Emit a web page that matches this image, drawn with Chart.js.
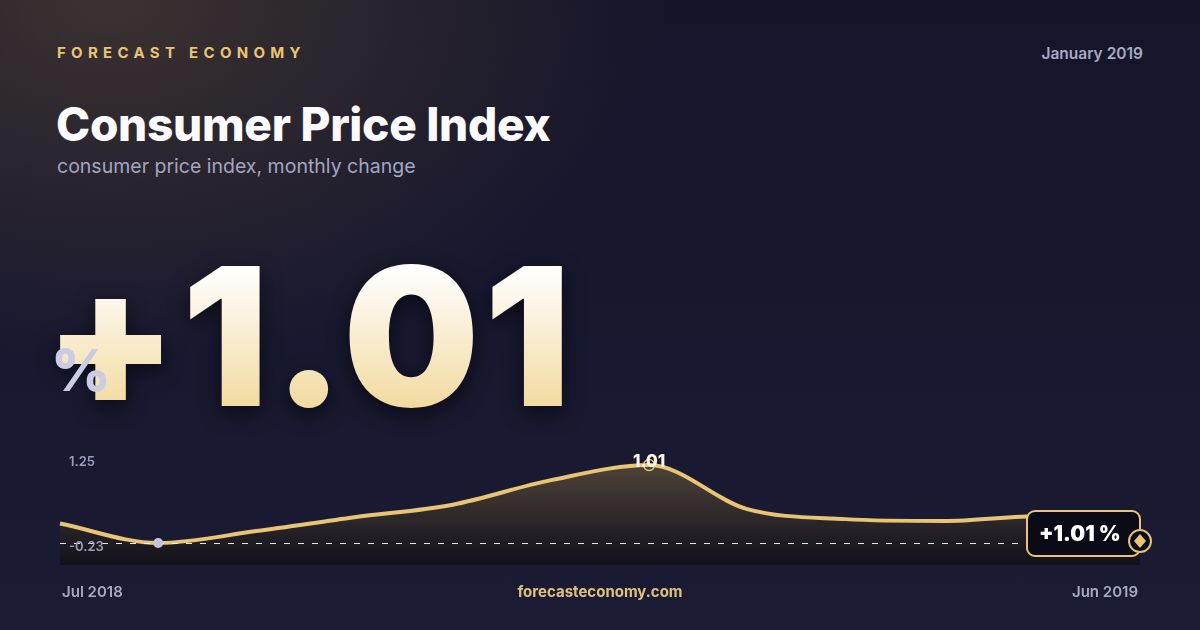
<!DOCTYPE html>
<html>
<head>
<meta charset="utf-8">
<script src="https://cdn.jsdelivr.net/npm/chart.js@4"></script>
<style>
  html, body { margin: 0; padding: 0; }
  body {
    width: 1200px; height: 630px; overflow: hidden; position: relative;
    font-family: Inter, "Noto Sans", sans-serif;
    background:
      radial-gradient(ellipse 560px 360px at 110px 0px, rgba(105, 84, 56, 0.45), rgba(105, 84, 56, 0) 100%),
      linear-gradient(180deg, #15152a 0%, #181830 60%, #1b1b34 100%);
  }
  .brand { position: absolute; left: 57px; top: 43px; font-size: 15px; font-weight: 700;
    letter-spacing: 5.3px; color: #e8c574; }
  .date { position: absolute; right: 57px; top: 44px; font-size: 15.5px; font-weight: 600; color: #a8aac4; }
  .title { position: absolute; left: 56px; top: 96px; font-size: 46px; font-weight: 800;
    color: #fbfbff; letter-spacing: -0.3px; }
  .sub { position: absolute; left: 57px; top: 154px; font-size: 19.5px; font-weight: 400; color: #a4a6c2; }
  .big { position: absolute; left: 44px; top: 240px; font-size: 192px; font-weight: 900;
    line-height: 1; letter-spacing: 4.5px;
    background: linear-gradient(180deg, #ffffff 15%, #f2d89c 90%);
    -webkit-background-clip: text; background-clip: text; color: transparent;
    filter: drop-shadow(0 6px 10px rgba(0,0,0,0.55)); }
  .pct { position: absolute; left: 51px; top: 335px; font-size: 58px; font-weight: 800; color: #c9cce2; }
  canvas { position: absolute; left: 0; top: 0; }
  .foot { position: absolute; top: 582px; font-size: 15px; font-weight: 600; color: #a8aac4; }
</style>
</head>
<body>
<div class="brand">FORECAST ECONOMY</div>
<div class="date">January 2019</div>
<div class="title">Consumer Price Index</div>
<div class="sub">consumer price index, monthly change</div>
<div class="big">+1.01</div>
<div class="pct">%</div>
<canvas id="chart" width="1200" height="630"></canvas>
<div class="foot" style="left:62px">Jul 2018</div>
<div class="foot" style="left:0;width:1200px;text-align:center;color:#e2c27a;font-weight:700">forecasteconomy.com</div>
<div class="foot" style="right:62px">Jun 2019</div>

<script>
// ---- DADOS ----
var months = ['Jul 2018','Aug 2018','Sep 2018','Oct 2018','Nov 2018','Dec 2018',
              'Jan 2019','Feb 2019','Mar 2019','Apr 2019','May 2019','Jun 2019'];
var cpiChange = [0.08, -0.23, -0.04, 0.18, 0.38, 0.77, 1.01, 0.31, 0.15, 0.12, 0.20, -0.20];
var axisLabels = ['1.25', '-0.23'];
var yMin = -0.58, yMax = 1.25;
var latestLabel = '+1.01 %';

var GOLD = '#e8c474';

// ---- PLUGIN: linha tracejada, rótulos e marcadores ----
var decor = {
  id: 'decor',
  afterDatasetsDraw: function(chart) {
    var c = chart.ctx, a = chart.chartArea, y = chart.scales.y;
    var pts = chart.getDatasetMeta(0).data;
    var minI = cpiChange.indexOf(Math.min.apply(null, cpiChange));
    var maxI = cpiChange.indexOf(Math.max.apply(null, cpiChange));
    var py = Math.round(y.getPixelForValue(cpiChange[minI]));
    c.save();
    // linha tracejada no mínimo
    c.setLineDash([6, 8]);
    c.strokeStyle = 'rgba(255,255,255,0.9)';
    c.lineWidth = 1;
    c.beginPath(); c.moveTo(a.left, py + 0.5); c.lineTo(a.right, py + 0.5); c.stroke();
    c.setLineDash([]);
    // rótulos do eixo
    c.font = '600 13px Inter';
    c.fillStyle = '#9c9fbc';
    c.textAlign = 'left';
    c.textBaseline = 'middle';
    c.fillText(axisLabels[0], a.left + 9, y.getPixelForValue(yMax) + 12);
    c.fillText(axisLabels[1], a.left + 9, py + 4);
    // mínimo
    c.fillStyle = '#c3c7dc';
    c.beginPath(); c.arc(pts[minI].x, pts[minI].y, 5, 0, Math.PI * 2); c.fill();
    // máximo
    c.strokeStyle = GOLD; c.lineWidth = 1.5;
    c.beginPath(); c.arc(pts[maxI].x, pts[maxI].y, 5.5, 0, Math.PI * 2); c.stroke();
    c.font = '800 17px Inter';
    c.fillStyle = '#fbf6ea';
    c.textAlign = 'center';
    c.fillText(cpiChange[maxI].toFixed(2), pts[maxI].x, pts[maxI].y - 3);
    // caixa do último valor
    var last = pts[pts.length - 1];
    var bx = last.x - 113, by = 511, bw = 113, bh = 45;
    c.beginPath();
    c.roundRect(bx, by, bw, bh, 8);
    c.fillStyle = '#0b0b17'; c.fill();
    c.strokeStyle = GOLD; c.lineWidth = 2; c.stroke();
    c.font = '900 21px Inter';
    c.fillStyle = '#ffffff';
    c.textAlign = 'left';
    c.fillText(latestLabel, bx + 12, by + bh / 2 + 1);
    // marcador final
    c.beginPath(); c.arc(last.x, last.y, 11, 0, Math.PI * 2);
    c.fillStyle = '#0b0b17'; c.fill();
    c.strokeStyle = GOLD; c.lineWidth = 2; c.stroke();
    c.beginPath();
    c.moveTo(last.x, last.y - 7); c.lineTo(last.x + 6, last.y);
    c.lineTo(last.x, last.y + 7); c.lineTo(last.x - 6, last.y); c.closePath();
    c.fillStyle = GOLD; c.fill();
    c.restore();
  }
};

// ---- CHART ----
var ctx = document.getElementById('chart');
new Chart(ctx, {
  type: 'line',
  data: {
    labels: months,
    datasets: [{
      data: cpiChange,
      borderColor: GOLD,
      borderWidth: 4,
      pointRadius: 0,
      cubicInterpolationMode: 'monotone',
      fill: 'start',
      backgroundColor: function(context) {
        var a = context.chart.chartArea;
        if (!a) return 'rgba(0,0,0,0)';
        var g = context.chart.ctx.createLinearGradient(0, a.top, 0, a.bottom);
        g.addColorStop(0, 'rgba(84,72,60,1)');
        g.addColorStop(0.3, 'rgba(66,57,50,1)');
        g.addColorStop(0.75, 'rgba(34,30,37,1)');
        g.addColorStop(1, 'rgba(18,17,27,1)');
        return g;
      },
      clip: false
    }]
  },
  options: {
    responsive: false,
    animation: false,
    layout: { padding: { left: 60, right: 60, top: 450, bottom: 65 } },
    plugins: { legend: { display: false }, tooltip: { enabled: false } },
    scales: {
      x: { display: false, offset: false },
      y: { display: false, min: yMin, max: yMax }
    }
  },
  plugins: [decor]
});
</script>
</body>
</html>
